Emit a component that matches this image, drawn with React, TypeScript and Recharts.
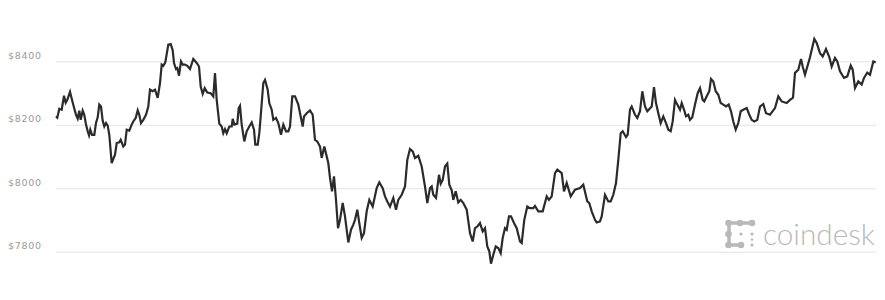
import { LineChart, Line, XAxis, YAxis, ReferenceLine } from "recharts";

// time position along the axis (arbitrary units)
const times = [
  0, 1.3, 3.3, 5.7, 8, 9.7, 11.3, 14, 16, 18, 20, 21.7, 23.3, 24.7, 26.7, 28.3, 30, 31.7, 33, 34.3,
  36, 38.3, 40, 41.7, 43.3, 45, 46.7, 48.3, 50, 51.7, 53.3, 55.7, 59, 60.7, 63.3, 64.7, 67.3, 69, 70.7, 73.3,
  75.7, 77.3, 79.7, 81.7, 83.3, 85, 87.3, 90, 92.3, 94, 96.7, 99, 101.7, 104, 105.7, 107.3, 109.3, 112.3, 114.7, 116.7,
  118, 120, 121.3, 123, 125, 126.7, 129, 131.3, 134, 137.3, 140.7, 143, 144.7, 146.7, 148.7, 151.3, 154.7, 157.3, 159, 160.7,
  163.3, 165.7, 167.3, 169, 170.7, 173.3, 175.7, 176.7, 178.3, 181.3, 182.7, 184, 185.7, 188.3, 190.7, 193.3, 195.7, 198, 199.3, 201.7,
  203.3, 204.7, 207.3, 209, 211.7, 213.3, 215.7, 217.3, 220, 222.3, 225, 227.3, 230, 232.3, 234, 236.3, 239, 242.3, 246.7, 248,
  250.7, 254, 256.7, 259, 261.3, 264, 265.7, 268.3, 270.7, 272.3, 274, 276, 278, 280, 282, 284, 286.7, 289, 292.3, 295,
  297.3, 299, 301.3, 303.3, 305.7, 308, 310.7, 313.3, 316.7, 320.7, 323.3, 326.7, 329, 331.3, 334, 337.3, 340, 342.3, 345.7, 349,
  351.3, 354, 356.7, 359, 362.3, 365.7, 369, 371.3, 374, 375.7, 377.3, 380, 383, 384.7, 386.7, 389, 391.3, 393.3, 395.7, 397.3,
  399.7, 402.3, 404.7, 407.3, 410.7, 414, 416.7, 419, 421.3, 424, 426.7, 429, 431.3, 433.3, 435, 437.3, 439.7, 442.3, 444.7, 446.7,
  449, 450.7, 453, 455, 458, 460.7, 464, 465.7, 468.3, 471.3, 474, 477.3, 479, 482.3, 486.7, 490.7, 493, 495.7, 499, 501.3,
  505.7, 508, 510.7, 514.7, 519, 524, 527.3, 531.3, 533.3, 535.7, 539, 540.7, 544, 545.7, 549, 552.3, 554.7, 557.3, 560, 562.3,
  564.7, 566.7, 570, 571.7, 574, 575.7, 579, 581.3, 584, 586.3, 589, 591.3, 595.7, 598, 600, 602.3, 604.7, 607.3, 610, 612.3,
  614.7, 616.7, 619, 621.3, 624, 625.7, 628, 630, 632.3, 634, 636.3, 639, 641.7, 644, 646.7, 648.3, 650.7, 653.3, 655, 657.3,
  659.7, 662.3, 664.7, 667.3, 670, 672.7, 675, 677.3, 679.7, 682.3, 684.7, 687.3, 690.7, 693.3, 695.7, 698.3, 701.3, 704, 707.3, 710,
  714, 719, 722.3, 725.7, 730.7, 734, 737, 739, 742.3, 745, 746.7, 749, 754, 758.3, 760.7, 764, 766.7, 770, 773.3, 775.7,
  779, 781.3, 784, 788, 791.3, 794.7, 796.7, 799, 802.3, 805.7, 808, 811.3, 814, 817.3, 819.7,
];

// BTC price in USD
const prices = [
  8228, 8224, 8252, 8249, 8293, 8271, 8280, 8305, 8280, 8256, 8233, 8221, 8246, 8217, 8246, 8233, 8202, 8181, 8168, 8186,
  8170, 8170, 8207, 8225, 8265, 8259, 8214, 8196, 8207, 8199, 8170, 8081, 8107, 8144, 8146, 8154, 8133, 8139, 8186, 8183,
  8202, 8212, 8223, 8247, 8233, 8207, 8217, 8233, 8259, 8312, 8307, 8312, 8286, 8333, 8391, 8387, 8398, 8454, 8456, 8436,
  8396, 8377, 8380, 8356, 8401, 8391, 8391, 8387, 8377, 8409, 8396, 8385, 8322, 8299, 8317, 8303, 8301, 8291, 8364, 8280,
  8205, 8196, 8175, 8188, 8175, 8196, 8196, 8220, 8202, 8205, 8254, 8261, 8202, 8149, 8181, 8196, 8209, 8186, 8139, 8139,
  8175, 8228, 8333, 8343, 8312, 8270, 8249, 8217, 8223, 8207, 8170, 8202, 8181, 8181, 8196, 8291, 8291, 8265, 8196, 8228,
  8238, 8247, 8233, 8154, 8149, 8133, 8097, 8133, 8102, 8081, 8034, 7992, 8039, 7965, 7876, 7902, 7955, 7913, 7831, 7871,
  7887, 7902, 7934, 7892, 7845, 7860, 7929, 7965, 7944, 8002, 8020, 8002, 7976, 7960, 7944, 7971, 7934, 7965, 7981, 8007,
  8091, 8125, 8118, 8097, 8104, 8070, 8007, 7955, 8002, 8007, 7981, 7971, 8044, 8016, 8028, 8070, 8079, 8013, 7995, 7965,
  7992, 7957, 7965, 7955, 7934, 7860, 7834, 7876, 7881, 7892, 7866, 7876, 7818, 7803, 7764, 7792, 7818, 7813, 7797, 7845,
  7876, 7871, 7913, 7913, 7892, 7876, 7834, 7829, 7902, 7944, 7939, 7939, 7946, 7929, 7929, 7976, 7965, 7976, 8049, 8060,
  8049, 7992, 8018, 7976, 7997, 8002, 8013, 7960, 7955, 7929, 7902, 7894, 7897, 7913, 7981, 7960, 7960, 7981, 8018, 8091,
  8175, 8181, 8163, 8170, 8249, 8259, 8233, 8223, 8244, 8307, 8259, 8244, 8259, 8320, 8270, 8238, 8207, 8228, 8207, 8186,
  8181, 8212, 8280, 8265, 8249, 8270, 8249, 8228, 8233, 8217, 8225, 8265, 8301, 8317, 8280, 8275, 8291, 8307, 8346, 8338,
  8307, 8296, 8270, 8265, 8259, 8265, 8244, 8212, 8186, 8207, 8244, 8249, 8254, 8233, 8217, 8212, 8217, 8259, 8267, 8238,
  8233, 8254, 8291, 8275, 8270, 8280, 8287, 8365, 8375, 8409, 8385, 8359, 8414, 8472, 8459, 8427, 8417, 8440, 8415, 8385,
  8412, 8401, 8370, 8349, 8354, 8388, 8375, 8317, 8338, 8328, 8349, 8366, 8359, 8401, 8398,
];

const yTicks = [7800, 8000, 8200, 8400];

const data = times.map((t, i) => ({ t, price: prices[i] }));

function PriceTick(props: any) {
  const { y, payload } = props;
  return (
    <text
      x={8}
      y={y - 3}
      fill="#9a9a9a"
      fontSize={9.5}
      letterSpacing={0.7}
      fontFamily="DejaVu Sans, sans-serif"
      textAnchor="start"
    >
      ${payload.value}
    </text>
  );
}

function CoindeskMark() {
  const c = "#b9b9b9";
  return (
    <div
      style={{
        position: "absolute",
        left: 724,
        top: 216,
        display: "flex",
        alignItems: "center",
      }}
    >
      <svg width={34} height={34} viewBox="0 0 34 34">
        <line x1={5} y1={7} x2={28} y2={7} stroke={c} strokeWidth={3.5} />
        <line x1={5} y1={7} x2={5} y2={29} stroke={c} strokeWidth={3.5} />
        <line x1={5} y1={29} x2={18} y2={29} stroke={c} strokeWidth={3.5} />
        <circle cx={4.5} cy={7} r={3.3} fill={c} />
        <circle cx={16} cy={7} r={3.3} fill={c} />
        <circle cx={28} cy={7} r={3.3} fill={c} />
        <circle cx={4.5} cy={18} r={3.3} fill={c} />
        <circle cx={4.5} cy={29} r={3.3} fill={c} />
        <circle cx={17} cy={29} r={3.3} fill={c} />
        <circle cx={28} cy={29} r={1.6} fill={c} />
        <circle cx={17} cy={18} r={1.6} fill={c} />
        <circle cx={28} cy={18} r={1.6} fill={c} />
        <circle cx={28} cy={23.5} r={1.2} fill={c} />
      </svg>
      <svg width={118} height={34} style={{ marginLeft: 5 }}>
        <text
          x={0}
          y={29}
          fill={c}
          fontSize={29}
          fontWeight={300}
          fontFamily="Lato, 'Open Sans', sans-serif"
          textLength={112}
          lengthAdjust="spacingAndGlyphs"
        >
          coindesk
        </text>
      </svg>
    </div>
  );
}

export default function App() {
  return (
    <div
      style={{
        position: "absolute",
        left: 0,
        top: 0,
        width: 885,
        height: 300,
        background: "#fff",
      }}
    >
      <LineChart
        width={885}
        height={300}
        data={data}
        margin={{ top: 30, right: 9, left: 0, bottom: 16 }}
      >
        <XAxis dataKey="t" type="number" domain={[0, 820]} hide />
        <YAxis
          domain={[7700, 8500]}
          ticks={yTicks}
          width={56}
          axisLine={false}
          tickLine={false}
          tick={<PriceTick />}
          interval={0}
        />
        {yTicks.map((v) => (
          <ReferenceLine key={v} y={v} stroke="#e3e3e3" strokeWidth={1} />
        ))}
        <Line
          type="linear"
          dataKey="price"
          stroke="#2b2b2b"
          strokeWidth={2.2}
          dot={false}
          isAnimationActive={false}
        />
      </LineChart>
      <CoindeskMark />
    </div>
  );
}
